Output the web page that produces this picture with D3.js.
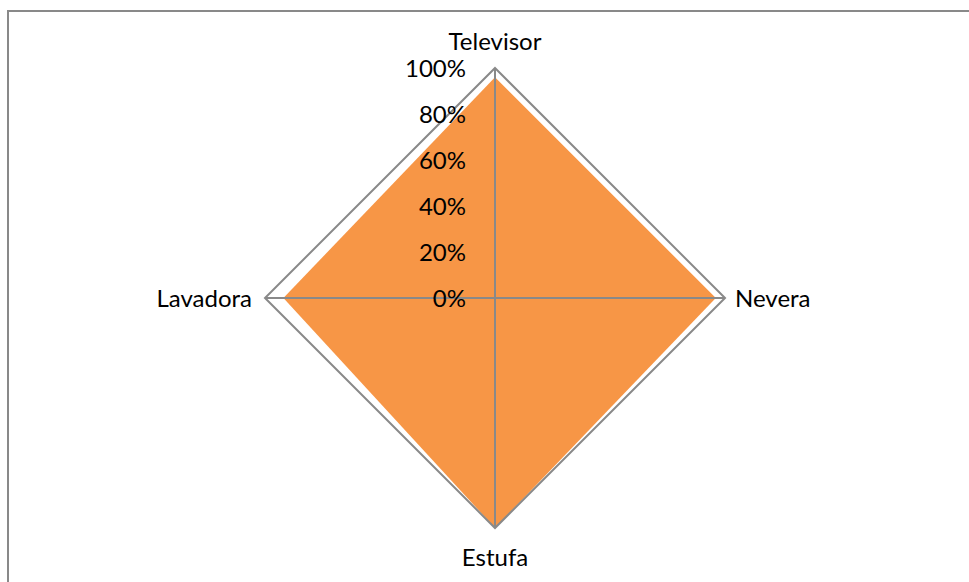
<!DOCTYPE html>
<html>
<head>
<meta charset="utf-8">
<style>
  body { margin: 0; background: #fff; }
  svg text { font-family: "Lato", "Open Sans", sans-serif; fill: #000; }
</style>
</head>
<body>
<script src="https://cdn.jsdelivr.net/npm/d3@7"></script>
<script>

// data
var categories = ["Televisor", "Nevera", "Estufa", "Lavadora"];
var values     = [0.96, 0.96, 1.00, 0.92];
var ticks      = [0, 0.2, 0.4, 0.6, 0.8, 1.0];

var width = 969, height = 582;
var cx = 495, cy = 298, R = 230;
var fontSize = 24;

var svg = d3.select("body").append("svg")
    .attr("width", width)
    .attr("height", height);

// chart border (runs off right / bottom edges)
svg.append("rect")
    .attr("x", 8).attr("y", 11)
    .attr("width", 980).attr("height", 600)
    .attr("fill", "none")
    .attr("stroke", "#898989")
    .attr("stroke-width", 2);

var r = d3.scaleLinear().domain([0, 1]).range([0, R]);
var angle = d3.scalePoint().domain(categories).range([0, 2 * Math.PI * 3 / 4]);

var g = svg.append("g").attr("transform", `translate(${cx},${cy})`);

function pt(cat, v) {
  var a = angle(cat);
  return [Math.sin(a) * r(v), -Math.cos(a) * r(v)];
}

// filled series
g.append("path")
    .attr("d", d3.line()(categories.map((c, i) => pt(c, values[i]))) + "Z")
    .attr("fill", "#F79646");

// outer gridline
g.append("path")
    .attr("d", d3.line()(categories.map(c => pt(c, 1))) + "Z")
    .attr("fill", "none")
    .attr("stroke", "#898989")
    .attr("stroke-width", 2);

// spokes
g.selectAll(".spoke")
  .data(categories)
  .join("line")
    .attr("class", "spoke")
    .attr("x1", 0).attr("y1", 0)
    .attr("x2", d => pt(d, 1)[0])
    .attr("y2", d => pt(d, 1)[1])
    .attr("stroke", "#898989")
    .attr("stroke-width", 2);

// value ticks
g.selectAll(".tick")
  .data(ticks)
  .join("text")
    .attr("class", "tick")
    .attr("x", -29)
    .attr("y", d => -r(d) + 9)
    .attr("text-anchor", "end")
    .attr("font-size", fontSize)
    .text(d3.format(".0%"));

// category labels
var labelPos = {
  "Televisor": {dx: 0,    dy: -248, anchor: "middle"},
  "Nevera":    {dx: 240,  dy: 9,    anchor: "start"},
  "Estufa":    {dx: 0,    dy: 268,  anchor: "middle"},
  "Lavadora":  {dx: -243, dy: 9,    anchor: "end"}
};

g.selectAll(".cat")
  .data(categories)
  .join("text")
    .attr("class", "cat")
    .attr("x", d => labelPos[d].dx)
    .attr("y", d => labelPos[d].dy)
    .attr("text-anchor", d => labelPos[d].anchor)
    .attr("font-size", fontSize)
    .text(d => d);

</script>
</body>
</html>
